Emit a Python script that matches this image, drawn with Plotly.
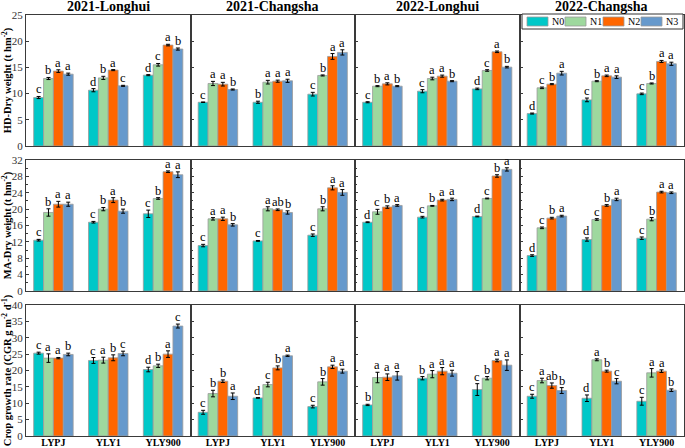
import plotly.graph_objects as go

# ---------------- data ----------------
cultivars = ["LYPJ", "YLY1", "YLY900"]
treatments = ["N0", "N1", "N2", "N3"]
sites = ["2021-Longhui", "2021-Changsha", "2022-Longhui", "2022-Changsha"]
colors = ["#00C8C8", "#9ED89E", "#FF6600", "#6699CC"]

# values: [cultivar][treatment]
hd_21lh = [[9.25, 12.88, 14.29, 13.71], [10.65, 13.0, 14.48, 11.48], [13.52, 15.5, 19.26, 18.5]]
hd_21cs = [[8.35, 11.93, 11.8, 10.78], [8.35, 12.18, 12.37, 12.44], [9.89, 13.46, 17.09, 17.86]]
hd_22lh = [[8.35, 11.42, 11.86, 11.42], [10.46, 12.88, 13.33, 12.37], [10.9, 14.41, 17.98, 15.05]]
hd_22cs = [[6.19, 11.1, 11.8, 13.9], [8.8, 12.37, 13.39, 13.14], [9.95, 11.93, 16.13, 15.69]]

ma_21lh = [[12.41, 19.18, 21.2, 21.2], [16.8, 20.0, 22.2, 19.5], [18.86, 22.6, 29.14, 28.4]]
ma_21cs = [[11.1, 17.63, 17.63, 16.16], [12.24, 20.08, 19.84, 19.18], [13.63, 20.08, 25.2, 24.08]]
ma_22lh = [[16.8, 19.35, 20.5, 20.9], [18.04, 20.8, 22.2, 22.37], [18.2, 22.6, 28.1, 29.7]]
ma_22cs = [[8.65, 15.43, 17.8, 18.3], [12.57, 17.47, 20.9, 22.37], [12.9, 17.55, 24.16, 24.0]]

cgr_21lh = [[25.3, 23.78, 23.78, 24.9], [23.06, 23.16, 23.88, 25.2], [20.3, 21.43, 25.0, 33.57]]
cgr_21cs = [[7.24, 12.96, 16.73, 12.14], [11.63, 15.71, 20.8, 24.49], [8.98, 16.53, 21.12, 19.8]]
cgr_22lh = [[9.49, 17.86, 17.96, 18.37], [17.65, 18.88, 19.8, 19.18], [14.18, 17.65, 23.06, 21.63]]
cgr_22cs = [[12.14, 16.94, 15.4, 13.88], [11.53, 23.27, 19.8, 16.73], [10.61, 19.29, 19.8, 13.98]]

# standard errors: [cultivar][treatment]
hd_21lh_err = [[0.2, 0.2, 0.25, 0.2], [0.3, 0.3, 0.1, 0.1], [0.1, 0.25, 0.15, 0.2]]
hd_21cs_err = [[0.05, 0.4, 0.35, 0.1], [0.2, 0.35, 0.2, 0.3], [0.35, 0.1, 0.55, 0.5]]
hd_22lh_err = [[0.1, 0.1, 0.2, 0.1], [0.3, 0.25, 0.2, 0.1], [0.15, 0.15, 0.15, 0.15]]
hd_22cs_err = [[0.1, 0.15, 0.1, 0.35], [0.35, 0.1, 0.15, 0.25], [0.15, 0.1, 0.2, 0.3]]

ma_21lh_err = [[0.2, 0.9, 0.7, 0.5], [0.2, 0.4, 0.6, 0.5], [0.9, 0.2, 0.2, 0.7]]
ma_21cs_err = [[0.3, 0.3, 0.4, 0.3], [0.1, 0.5, 0.2, 0.4], [0.3, 0.5, 0.5, 0.7]]
ma_22lh_err = [[0.1, 0.6, 0.3, 0.2], [0.2, 0.1, 0.2, 0.3], [0.1, 0.1, 0.3, 0.4]]
ma_22cs_err = [[0.2, 0.2, 0.2, 0.2], [0.4, 0.2, 0.2, 0.3], [0.3, 0.4, 0.2, 0.2]]

cgr_21lh_err = [[0.3, 1.3, 0.2, 0.4], [0.9, 0.9, 0.9, 0.7], [0.7, 0.5, 1.0, 0.6]]
cgr_21cs_err = [[0.6, 1.0, 0.4, 1.0], [0.1, 0.7, 0.6, 0.2], [0.4, 1.0, 0.5, 0.6]]
cgr_22lh_err = [[0.2, 1.6, 1.0, 1.3], [0.5, 1.1, 1.1, 0.9], [1.8, 0.5, 0.4, 1.6]]
cgr_22cs_err = [[0.6, 0.7, 0.8, 0.9], [1.0, 0.3, 0.3, 0.8], [1.2, 1.3, 0.4, 0.4]]

# significance letters: [cultivar][treatment]
hd_21lh_let = [["c", "b", "a", "a"], ["d", "b", "a", "c"], ["d", "c", "a", "b"]]
hd_21cs_let = [["c", "a", "a", "b"], ["b", "a", "a", "a"], ["c", "b", "a", "a"]]
hd_22lh_let = [["c", "b", "a", "b"], ["c", "a", "a", "b"], ["d", "c", "a", "b"]]
hd_22cs_let = [["d", "c", "b", "a"], ["c", "b", "a", "a"], ["c", "b", "a", "a"]]

ma_21lh_let = [["c", "b", "a", "a"], ["c", "b", "a", "b"], ["c", "b", "a", "a"]]
ma_21cs_let = [["c", "a", "a", "b"], ["c", "a", "ab", "b"], ["c", "b", "a", "a"]]
ma_22lh_let = [["d", "c", "b", "a"], ["c", "b", "a", "a"], ["d", "c", "b", "a"]]
ma_22cs_let = [["d", "c", "b", "a"], ["d", "c", "b", "a"], ["c", "b", "a", "a"]]

cgr_21lh_let = [["c", "a", "a", "b"], ["c", "a", "b", "c"], ["d", "b", "a", "c"]]
cgr_21cs_let = [["c", "b", "b", "a"], ["d", "c", "b", "a"], ["c", "b", "a", "a"]]
cgr_22lh_let = [["b", "a", "a", "a"], ["b", "a", "a", "a"], ["c", "b", "a", "a"]]
cgr_22cs_let = [["c", "a", "ab", "b"], ["d", "a", "b", "c"], ["c", "a", "a", "b"]]

row_titles = ["HD-Dry weight (t hm<sup>-2</sup>)",
              "MA-Dry weight (t hm<sup>-2</sup>)",
              "Crop growth rate (CGR g m<sup>-2</sup> d<sup>-1</sup>)"]
row_ranges = [[0, 25], [0, 32], [0, 40]]
row_dticks = [5, 4, 5]

panels = [
    [(hd_21lh, hd_21lh_err, hd_21lh_let), (hd_21cs, hd_21cs_err, hd_21cs_let),
     (hd_22lh, hd_22lh_err, hd_22lh_let), (hd_22cs, hd_22cs_err, hd_22cs_let)],
    [(ma_21lh, ma_21lh_err, ma_21lh_let), (ma_21cs, ma_21cs_err, ma_21cs_let),
     (ma_22lh, ma_22lh_err, ma_22lh_let), (ma_22cs, ma_22cs_err, ma_22cs_let)],
    [(cgr_21lh, cgr_21lh_err, cgr_21lh_let), (cgr_21cs, cgr_21cs_err, cgr_21cs_let),
     (cgr_22lh, cgr_22lh_err, cgr_22lh_let), (cgr_22cs, cgr_22cs_err, cgr_22cs_let)],
]

# ---------------- layout geometry ----------------
W, H = 685, 448
ml, mr, mt, mb = 26, 1, 15, 12
plot_w = W - ml - mr
plot_h = H - mt - mb
row_px = [(15, 146), (160, 291), (305, 436)]
row_domains = [[(H - mb - b) / plot_h, (H - mb - t) / plot_h] for t, b in row_px]
col_domains = [[0.25 * c, 0.25 * (c + 1)] for c in range(4)]


def px_x(p):
    return (p - ml) / plot_w


def px_y(p):
    return (H - mb - p) / plot_h


SERIF = "Liberation Serif, Times New Roman, serif"
BARGAP = 0.28
bw = (1 - BARGAP) / len(treatments)

fig = go.Figure()
annotations = []
shapes = []
line_col = "#3a3a3a"

for r in range(3):
    for c in range(4):
        idx = r * 4 + c + 1
        xa = "x" if idx == 1 else f"x{idx}"
        ya = "y" if idx == 1 else f"y{idx}"
        vals, errs, lets = panels[r][c]
        for t, tname in enumerate(treatments):
            fig.add_trace(go.Bar(
                x=cultivars,
                y=[vals[k][t] for k in range(3)],
                error_y=dict(type="data", array=[errs[k][t] for k in range(3)],
                             color="black", thickness=1, width=2),
                marker=dict(color=colors[t], line=dict(color="#9a9a9a", width=0.8)),
                name=tname, legendgroup=tname, showlegend=False,
                xaxis=xa, yaxis=ya, offsetgroup=str(t),
            ))
            for k in range(3):
                annotations.append(dict(
                    x=k - (1 - BARGAP) / 2 + bw * (t + 0.5),
                    y=vals[k][t] + errs[k][t],
                    xref=xa, yref=ya, text=lets[k][t], showarrow=False,
                    xanchor="center", yanchor="bottom", yshift=-2,
                    font=dict(family=SERIF, size=12.5, color="black"),
                ))
        xkey = "xaxis" if idx == 1 else f"xaxis{idx}"
        ykey = "yaxis" if idx == 1 else f"yaxis{idx}"
        fig.layout[xkey] = dict(
            domain=col_domains[c], anchor=ya, range=[-0.5, 2.5],
            type="category", showticklabels=(r == 2), ticks="",
            tickfont=dict(family=SERIF, size=10, color="black", weight="bold"),
            ticklabelstandoff=-3,
            showline=True, mirror=True, linecolor=line_col, linewidth=1,
            showgrid=False, zeroline=False, fixedrange=True,
        )
        yax = dict(
            domain=row_domains[r], anchor=xa, range=row_ranges[r], dtick=row_dticks[r],
            showticklabels=(c == 0), ticks="inside", ticklen=3, tickcolor=line_col,
            minor=dict(ticks="inside", ticklen=2, tickcolor=line_col, nticks=2),
            tickfont=dict(family=SERIF, size=11, color="#333"),
            showline=True, mirror=True, linecolor=line_col, linewidth=1,
            showgrid=False, zeroline=False, fixedrange=True,
        )
        if c == 0:
            yax["title"] = dict(text=f"<b>{row_titles[r]}</b>",
                                font=dict(family=SERIF, size=10.5, color="black"), standoff=1)
        fig.layout[ykey] = yax

for c, s in enumerate(sites):
    annotations.append(dict(
        x=(col_domains[c][0] + col_domains[c][1]) / 2, y=1.0, xref="paper", yref="paper",
        text=f"<b>{s}</b>", showarrow=False, xanchor="center", yanchor="bottom", yshift=-1,
        font=dict(family=SERIF, size=14, color="black"),
    ))

# legend (drawn inside the 2022-Changsha top panel)
leg_left, leg_top, leg_right, leg_bot = 522, 14, 683, 29
shapes.append(dict(type="rect", xref="paper", yref="paper",
                   x0=px_x(leg_left), x1=px_x(leg_right), y0=px_y(leg_bot), y1=px_y(leg_top),
                   line=dict(color="#333", width=1), fillcolor="white", layer="above"))
item_step = 38
for t, tname in enumerate(treatments):
    sx = 527 + t * item_step
    shapes.append(dict(type="rect", xref="paper", yref="paper",
                       x0=px_x(sx), x1=px_x(sx + 21), y0=px_y(26), y1=px_y(17),
                       line=dict(color="#9a9a9a", width=0.8), fillcolor=colors[t], layer="above"))
    annotations.append(dict(x=px_x(sx + 23), y=px_y(21.5), xref="paper", yref="paper",
                            text=tname, showarrow=False, xanchor="left", yanchor="middle",
                            font=dict(family=SERIF, size=10, color="black")))

fig.update_layout(
    width=W, height=H,
    margin=dict(l=ml, r=mr, t=mt, b=mb),
    paper_bgcolor="white", plot_bgcolor="white",
    barmode="group", bargap=BARGAP, bargroupgap=0,
    annotations=annotations, shapes=shapes,
    showlegend=False,
)

fig.write_html("out.html",
               config={"displayModeBar": False},
               post_script="document.body.style.margin='0';document.body.style.overflow='hidden';")
